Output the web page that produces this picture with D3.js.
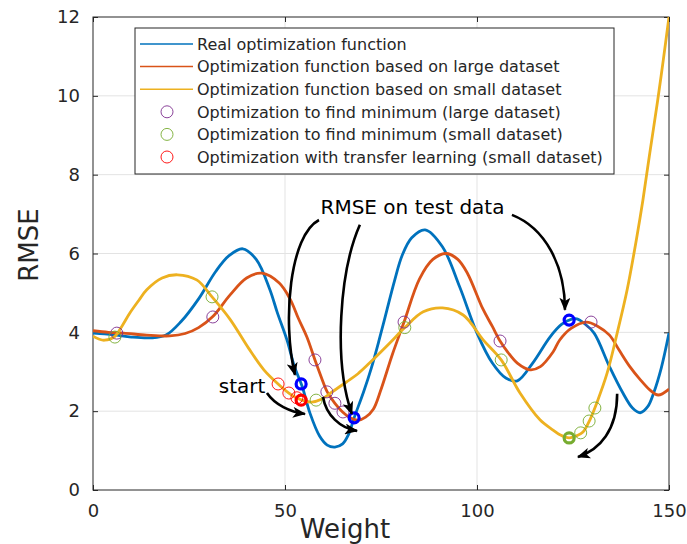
<!DOCTYPE html>
<html>
<head>
<meta charset="utf-8">
<script src="https://cdn.jsdelivr.net/npm/d3@7"></script>
<style>
  body { margin: 0; background: #fff; }
  svg { display: block; font-family: 'DejaVu Sans', sans-serif; }
</style>
</head>
<body>
<div id="main"></div>
<script>
/// data ///
const realX   = [0, 3, 6, 10, 15, 19, 23, 27.5, 32, 35.5, 39, 42.5, 46, 48, 50.5, 52.5, 54.5, 56.5, 59, 61, 63, 65, 66.5, 68, 70.5, 72.5, 74.5, 76.5, 78.5, 80.5, 83, 86.5, 91, 95.5, 100, 104, 107.5, 110.5, 114.5, 119, 122, 124.5, 126, 128, 130.5, 134.5, 138, 140.5, 142.5, 144.5, 146, 148, 150];
const realY   = [3.98, 3.96, 3.93, 3.88, 3.86, 3.93, 4.28, 4.85, 5.55, 5.95, 6.12, 5.85, 5.1, 4.5, 3.81, 3.12, 2.62, 1.95, 1.37, 1.14, 1.09, 1.17, 1.4, 1.83, 2.5, 3.1, 3.8, 4.55, 5.3, 5.95, 6.4, 6.6, 6.17, 5.15, 3.98, 3.22, 2.84, 2.77, 3.22, 3.88, 4.2, 4.33, 4.34, 4.22, 3.98, 3.13, 2.46, 2.08, 1.96, 2.12, 2.46, 3.1, 3.98];

const largeX  = [0, 4, 8, 14, 20, 24, 27.5, 31.2, 35.7, 40, 44, 48.5, 51.3, 53.5, 55.7, 57.8, 59.5, 61, 63, 65, 67, 69, 71, 73, 75, 78, 81, 85, 88.5, 92, 95, 97.5, 101.5, 104, 106, 108, 110.5, 113.8, 116.5, 119.8, 121.5, 124.5, 128.5, 131.5, 134.5, 137, 139.8, 142.5, 145, 147.2, 150];
const largeY  = [4.04, 4.0, 3.98, 3.93, 3.91, 3.97, 4.12, 4.4, 4.95, 5.38, 5.5, 5.25, 4.85, 4.35, 3.88, 3.3, 2.85, 2.49, 2.2, 1.98, 1.83, 1.77, 1.85, 2.05, 2.55, 3.45, 4.26, 5.35, 5.85, 6.0, 5.85, 5.5, 4.6, 4.15, 3.78, 3.5, 3.22, 3.05, 3.13, 3.5, 3.8, 4.1, 4.26, 4.15, 3.93, 3.55, 3.13, 2.8, 2.54, 2.41, 2.56];

const smallX  = [0, 1.5, 3, 5.7, 7.5, 9.6, 12, 14, 18, 22, 27, 31, 35.7, 40.5, 44.5, 48.2, 51, 53, 55, 57, 59.5, 62, 66, 69, 72, 77.3, 81.2, 86, 91, 96.4, 101.6, 106.3, 111.2, 116.4, 119.8, 121.6, 124, 126, 127.6, 129.5, 131.2, 133.9, 136.5, 139.1, 141.5, 143.2, 145, 147, 148.5, 150];
const smallY  = [3.9, 3.83, 3.8, 3.9, 4.15, 4.49, 4.82, 5.08, 5.38, 5.46, 5.33, 4.9, 4.33, 3.6, 3.05, 2.69, 2.46, 2.34, 2.26, 2.23, 2.3, 2.47, 2.74, 2.95, 3.22, 3.73, 4.12, 4.52, 4.62, 4.44, 3.81, 3.3, 2.46, 1.78, 1.52, 1.4, 1.32, 1.38, 1.47, 1.8, 2.21, 2.97, 3.98, 5.08, 6.35, 7.35, 8.55, 9.85, 10.9, 12];

// optimisation steps (small circles)
const largeStepX    = [6.2, 31.2, 57.8, 60.9, 63, 65.1, 81, 106, 129.7];
const largeStepY    = [3.98, 4.39, 3.3, 2.49, 2.2, 1.98, 4.26, 3.78, 4.26];
const smallStepX    = [5.7, 31, 58.1, 81.2, 106.3, 127, 129.2, 130.7];
const smallStepY    = [3.88, 4.9, 2.28, 4.12, 3.3, 1.45, 1.75, 2.08];
const transferStepX = [48.2, 51, 53.1];
const transferStepY = [2.69, 2.46, 2.34];

// final points (bold circles)
const testX     = [54.2, 68, 124];
const testY     = [2.69, 1.83, 4.31];
const transferX = [54.2];
const transferY = [2.28];
const smallEndX = [124];
const smallEndY = [1.32];

const legendLabels = [
    'Real optimization function',
    'Optimization function based on large dataset',
    'Optimization function based on small dataset',
    'Optimization to find minimum (large dataset)',
    'Optimization to find minimum (small dataset)',
    'Optimization with transfer learning (small dataset)'
];

const xTicks = [0, 50, 100, 150];
const yTicks = [0, 2, 4, 6, 8, 10, 12];

// annotation arrows: start, control 1, control 2, end (data units)
const arrows = [
    [[58.85, 6.85], [51.3, 6.47], [49.2, 4.31], [52.6, 2.92]],
    [[69.5, 6.73], [64.3, 5.58], [62.5, 3.3], [67.4, 1.93]],
    [[109.1, 6.98], [117.7, 6.65], [122.9, 5.71], [122.9, 4.57]],
    [[45.3, 2.46], [47.4, 2.16], [51.3, 1.98], [55.2, 1.93]],
    [[59.9, 2.36], [60.7, 1.9], [64.3, 1.57], [68.75, 1.5]],
    [[136.5, 2.44], [136.5, 1.52], [132.0, 1.02], [126.3, 0.84]]
];

/// plot ///
const w = 687, h = 544;
const padL = 93, padR = 669, padT = 17, padB = 490;
const axisCol = '#262626';

const svg = d3.select('#main').append('svg')
    .attr('width', w)
    .attr('height', h);

const xScale = d3.scaleLinear().domain([0, 150]).range([padL, padR]);
const yScale = d3.scaleLinear().domain([0, 12]).range([padB, padT]);

// grid
svg.append('g')
    .selectAll('line')
    .data(yTicks.slice(1, -1))
    .enter().append('line')
    .attr('x1', padL).attr('x2', padR)
    .attr('y1', d => yScale(d)).attr('y2', d => yScale(d))
    .attr('stroke', '#e3e3e3');

svg.append('g')
    .selectAll('line')
    .data(xTicks.slice(1, -1))
    .enter().append('line')
    .attr('y1', padT).attr('y2', padB)
    .attr('x1', d => xScale(d)).attr('x2', d => xScale(d))
    .attr('stroke', '#e3e3e3');

// axes (ticks inside, mirrored like matlab box)
let styleAxis = g => {
    g.select('.domain').remove();
    g.selectAll('line').attr('stroke', axisCol);
    g.selectAll('text')
        .attr('fill', axisCol)
        .style('font-size', '18px')
        .style('font-family', "'DejaVu Sans', sans-serif");
};

svg.append('g')
    .attr('transform', 'translate(0,' + padB + ')')
    .call(d3.axisBottom(xScale).tickValues(xTicks).tickSizeInner(-5).tickPadding(14).tickSizeOuter(0))
    .call(styleAxis);

svg.append('g')
    .attr('transform', 'translate(' + padL + ',0)')
    .call(d3.axisLeft(yScale).tickValues(yTicks).tickSizeInner(-5).tickPadding(13).tickSizeOuter(0))
    .call(styleAxis);

svg.append('g')
    .attr('transform', 'translate(0,' + padT + ')')
    .call(d3.axisTop(xScale).tickValues(xTicks).tickSizeInner(-5).tickFormat('').tickSizeOuter(0))
    .call(styleAxis);

svg.append('g')
    .attr('transform', 'translate(' + padR + ',0)')
    .call(d3.axisRight(yScale).tickValues(yTicks).tickSizeInner(-5).tickFormat('').tickSizeOuter(0))
    .call(styleAxis);

// box
svg.append('rect')
    .attr('x', padL).attr('y', padT)
    .attr('width', padR - padL).attr('height', padB - padT)
    .attr('fill', 'none')
    .attr('stroke', axisCol)
    .attr('stroke-width', 1);

// clip for curves
svg.append('clipPath').attr('id', 'clip')
    .append('rect')
    .attr('x', padL).attr('y', padT - 2)
    .attr('width', padR - padL).attr('height', padB - padT + 2);

let line = d3.line()
    .x(d => xScale(d[0]))
    .y(d => yScale(d[1]))
    .curve(d3.curveCatmullRom.alpha(0.5));

let zip = (xs, ys) => xs.map((x, i) => [x, ys[i]]);

let curves = [
    { pts: zip(realX, realY),   col: '#0072BD' },
    { pts: zip(largeX, largeY), col: '#D95319' },
    { pts: zip(smallX, smallY), col: '#EDB120' }
];

let plot = svg.append('g').attr('clip-path', 'url(#clip)');

plot.selectAll('path.curve')
    .data(curves)
    .enter().append('path')
    .attr('class', 'curve')
    .attr('d', d => line(d.pts))
    .attr('fill', 'none')
    .attr('stroke', d => d.col)
    .attr('stroke-width', 2.8);

// small circles
let dots = [
    { pts: zip(largeStepX, largeStepY),       col: '#7E2F8E' },
    { pts: zip(smallStepX, smallStepY),       col: '#77AC30' },
    { pts: zip(transferStepX, transferStepY), col: '#FF0000' }
];

dots.forEach(s => {
    svg.append('g').selectAll('circle')
        .data(s.pts)
        .enter().append('circle')
        .attr('cx', d => xScale(d[0]))
        .attr('cy', d => yScale(d[1]))
        .attr('r', 6)
        .attr('fill', 'none')
        .attr('stroke', s.col)
        .attr('stroke-width', 0.9);
});

// bold circles
let bold = [
    { pts: zip(testX, testY),         col: '#0000FF' },
    { pts: zip(transferX, transferY), col: '#FF0000' },
    { pts: zip(smallEndX, smallEndY), col: '#77AC30' }
];

bold.forEach(s => {
    svg.append('g').selectAll('circle')
        .data(s.pts)
        .enter().append('circle')
        .attr('cx', d => xScale(d[0]))
        .attr('cy', d => yScale(d[1]))
        .attr('r', 5)
        .attr('fill', 'none')
        .attr('stroke', s.col)
        .attr('stroke-width', 3.2);
});

// arrows
svg.append('defs').append('marker')
    .attr('id', 'head')
    .attr('viewBox', '0 0 12 10')
    .attr('refX', 11).attr('refY', 5)
    .attr('markerWidth', 14).attr('markerHeight', 11)
    .attr('markerUnits', 'userSpaceOnUse')
    .attr('orient', 'auto')
    .append('path')
    .attr('d', 'M0,0 L12,5 L0,10 L3,5 Z')
    .attr('fill', '#000');

svg.append('g').selectAll('path')
    .data(arrows)
    .enter().append('path')
    .attr('d', a => {
        let p = d3.path();
        let q = a.map(d => [xScale(d[0]), yScale(d[1])]);
        p.moveTo(q[0][0], q[0][1]);
        p.bezierCurveTo(q[1][0], q[1][1], q[2][0], q[2][1], q[3][0], q[3][1]);
        return p.toString();
    })
    .attr('fill', 'none')
    .attr('stroke', '#000')
    .attr('stroke-width', 2.6)
    .attr('marker-end', 'url(#head)');

// annotation text
svg.append('text')
    .attr('x', xScale(83.2)).attr('y', yScale(7.0))
    .attr('text-anchor', 'middle')
    .style('font-size', '20px')
    .attr('fill', '#000')
    .text('RMSE on test data');

svg.append('text')
    .attr('x', xScale(44.9)).attr('y', yScale(2.47))
    .attr('text-anchor', 'end')
    .style('font-size', '20px')
    .attr('fill', '#000')
    .text('start');

// axis labels
svg.append('text')
    .attr('x', 345).attr('y', 538)
    .attr('text-anchor', 'middle')
    .style('font-size', '26px')
    .attr('fill', axisCol)
    .text('Weight');

svg.append('text')
    .attr('transform', 'translate(38,245) rotate(-90)')
    .attr('text-anchor', 'middle')
    .style('font-size', '26px')
    .attr('fill', axisCol)
    .text('RMSE');

/// legend ///
let legend = svg.append('g');
legend.append('rect')
    .attr('x', 135).attr('y', 28)
    .attr('width', 479).attr('height', 146)
    .attr('fill', '#fff')
    .attr('stroke', axisCol)
    .attr('stroke-width', 1);

let legendCols = ['#0072BD', '#D95319', '#EDB120', '#7E2F8E', '#77AC30', '#FF0000'];
let rowY = i => 44 + i * 22.6;

legend.selectAll('.key')
    .data(legendLabels)
    .enter().append('g')
    .each(function (d, i) {
        let g = d3.select(this);
        if (i < 3) {
            g.append('line')
                .attr('x1', 140).attr('x2', 193)
                .attr('y1', rowY(i)).attr('y2', rowY(i))
                .attr('stroke', legendCols[i])
                .attr('stroke-width', 1.5);
        } else {
            g.append('circle')
                .attr('cx', 167).attr('cy', rowY(i))
                .attr('r', 6)
                .attr('fill', 'none')
                .attr('stroke', legendCols[i])
                .attr('stroke-width', 0.9);
        }
        g.append('text')
            .attr('x', 197).attr('y', rowY(i))
            .attr('dy', '0.36em')
            .style('font-size', '16px')
            .attr('fill', axisCol)
            .text(d);
    });
</script>
</body>
</html>
